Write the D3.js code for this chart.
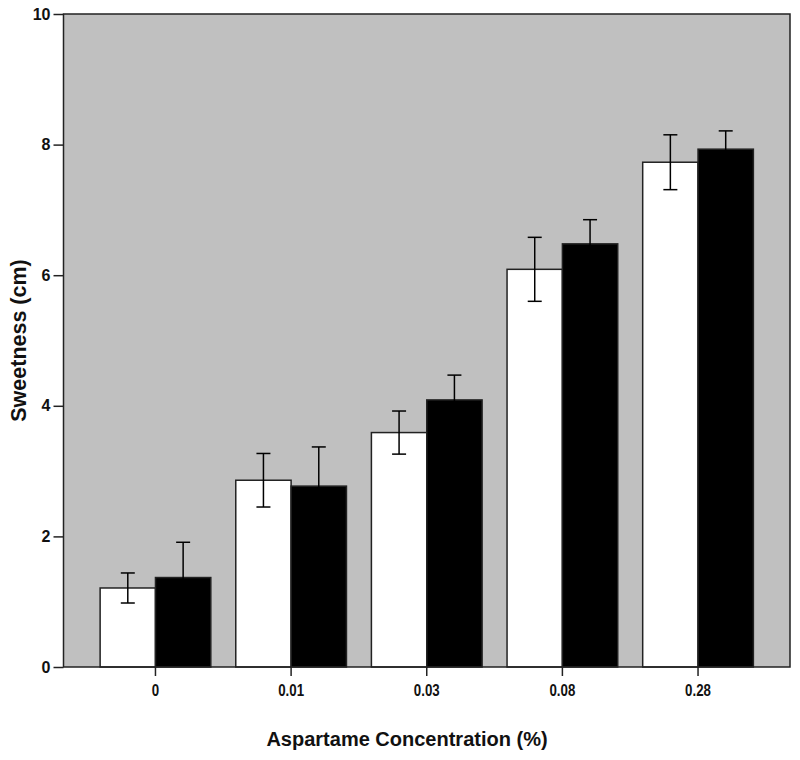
<!DOCTYPE html>
<html>
<head>
<meta charset="utf-8">
<script src="https://cdn.jsdelivr.net/npm/d3@7"></script>
<style>
  body { margin: 0; background: #fff; }
  text { font-family: "Liberation Sans", Arial, sans-serif; font-weight: bold; }
</style>
</head>
<body>
<div id="chart"></div>
<script>
// data
var concentrations = ["0", "0.01", "0.03", "0.08", "0.28"];
var seriesNames = ["white", "black"];
var whiteMeans = [1.21, 2.86, 3.59, 6.09, 7.73];
var whiteErr   = [0.23, 0.41, 0.33, 0.49, 0.42];
var blackMeans = [1.37, 2.77, 4.09, 6.48, 7.93];
var blackErr   = [0.54, 0.60, 0.38, 0.37, 0.28];
var yTicks = [0, 2, 4, 6, 8, 10];

var margin = {top: 14, right: 10, bottom: 93, left: 63.5},
    width = 800 - margin.left - margin.right,
    height = 760 - margin.top - margin.bottom;

var svg = d3.select("#chart")
  .append("svg")
    .attr("width", 800)
    .attr("height", 760)
  .append("g")
    .attr("transform", "translate(" + margin.left + "," + margin.top + ")");

// build rows for the bars
var rows = [];
concentrations.forEach(function(c, i) {
  rows.push({conc: c, series: "white", mean: whiteMeans[i], err: whiteErr[i]});
  rows.push({conc: c, series: "black", mean: blackMeans[i], err: blackErr[i]});
});

var x0 = d3.scaleBand()
  .domain(concentrations)
  .range([0, width])
  .paddingInner(0.184)
  .paddingOuter(0.27);

var x1 = d3.scaleBand()
  .domain(seriesNames)
  .range([0, x0.bandwidth()]);

var y = d3.scaleLinear()
  .domain([0, 10])
  .range([height, 0]);

var color = d3.scaleOrdinal()
  .domain(seriesNames)
  .range(["#ffffff", "#000000"]);

// grey plot background
svg.append("rect")
  .attr("width", width)
  .attr("height", height)
  .attr("fill", "#c0c0c0");

// bars
svg.selectAll(".bar")
  .data(rows)
  .enter()
  .append("rect")
    .attr("class", "bar")
    .attr("x", function(d) { return x0(d.conc) + x1(d.series); })
    .attr("y", function(d) { return y(d.mean); })
    .attr("width", x1.bandwidth())
    .attr("height", function(d) { return height - y(d.mean); })
    .attr("fill", function(d) { return color(d.series); })
    .attr("stroke", "#222")
    .attr("stroke-width", 1.5);

// error bars (black so the lower half vanishes inside the black bars)
var eb = svg.selectAll(".err")
  .data(rows)
  .enter()
  .append("g")
    .attr("class", "err")
    .attr("transform", function(d) { return "translate(" + (x0(d.conc) + x1(d.series) + x1.bandwidth() / 2) + ",0)"; });

eb.append("line")
  .attr("y1", function(d) { return y(d.mean - d.err); })
  .attr("y2", function(d) { return y(d.mean + d.err); })
  .attr("stroke", "#000")
  .attr("stroke-width", 1.5);

eb.append("line")
  .attr("x1", -7).attr("x2", 7)
  .attr("y1", function(d) { return y(d.mean + d.err); })
  .attr("y2", function(d) { return y(d.mean + d.err); })
  .attr("stroke", "#000")
  .attr("stroke-width", 1.5);

eb.append("line")
  .attr("x1", -7).attr("x2", 7)
  .attr("y1", function(d) { return y(d.mean - d.err); })
  .attr("y2", function(d) { return y(d.mean - d.err); })
  .attr("stroke", "#000")
  .attr("stroke-width", 1.5);

// frame round the plot
svg.append("rect")
  .attr("width", width)
  .attr("height", height)
  .attr("fill", "none")
  .attr("stroke", "#222")
  .attr("stroke-width", 1.5);

// y axis
var yAxis = svg.append("g")
  .call(d3.axisLeft(y).tickValues(yTicks).tickSize(10).tickPadding(3));
yAxis.select(".domain").remove();
yAxis.selectAll("line").attr("stroke", "#222").attr("stroke-width", 1.5);
yAxis.selectAll("text").style("font-size", "16px").attr("fill", "#111");

// x axis, labels squeezed a bit like the narrow face in the original
var xAxis = svg.append("g")
  .attr("transform", "translate(0," + height + ")")
  .call(d3.axisBottom(x0).tickSize(9).tickPadding(9));
xAxis.select(".domain").remove();
xAxis.selectAll("line").attr("stroke", "#222").attr("stroke-width", 1.5);
xAxis.selectAll("text")
  .style("font-size", "16px")
  .attr("transform", "scale(0.83,1)")
  .attr("fill", "#111");

// axis titles
svg.append("text")
  .attr("x", 407 - margin.left)
  .attr("y", 746 - margin.top)
  .attr("text-anchor", "middle")
  .style("font-size", "20px")
  .attr("fill", "#111")
  .text("Aspartame Concentration (%)");

svg.append("text")
  .attr("transform", "translate(" + (25.5 - margin.left) + "," + (height / 2) + ") rotate(-90)")
  .attr("text-anchor", "middle")
  .style("font-size", "21.5px")
  .attr("fill", "#111")
  .text("Sweetness (cm)");
</script>
</body>
</html>
